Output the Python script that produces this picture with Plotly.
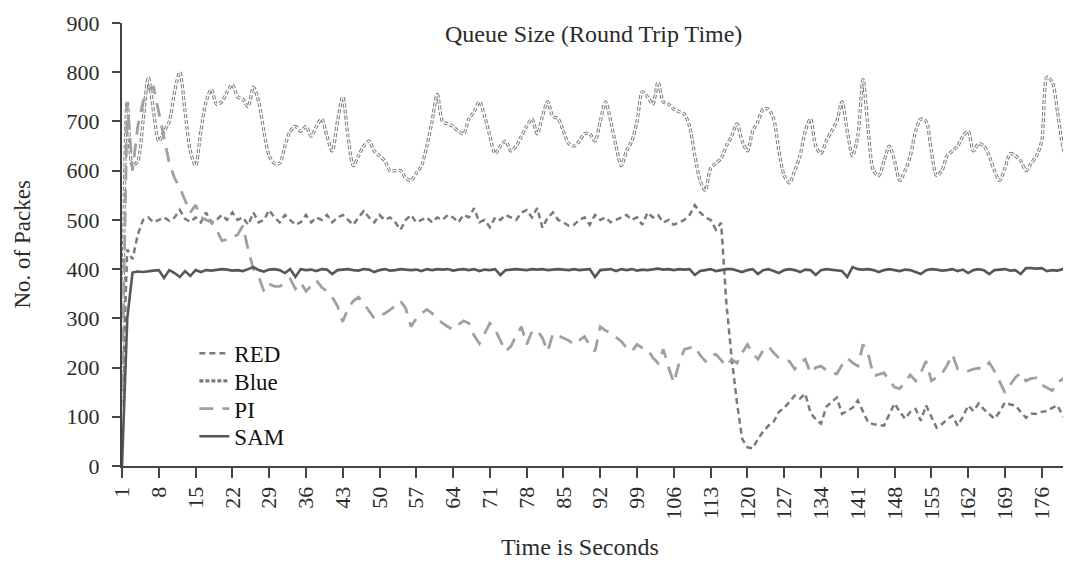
import plotly.graph_objects as go

seconds = list(range(1, 182))

red = [130, 440, 420, 470, 500, 505, 495, 500, 505, 498,
       505, 520, 502, 496, 505, 495, 515, 495, 500, 510,
       500, 515, 500, 505, 490, 515, 495, 500, 520, 505,
       495, 510, 500, 490, 495, 510, 495, 505, 500, 510,
       495, 505, 510, 500, 490, 505, 518, 505, 495, 510,
       500, 505, 495, 480, 500, 510, 495, 500, 505, 495,
       505, 500, 510, 505, 495, 510, 505, 524, 495, 500,
       485, 505, 500, 510, 505, 500, 515, 520, 505, 524,
       484, 505, 515, 500, 495, 488, 490, 500, 505, 490,
       510, 500, 505, 495, 500, 505, 510, 500, 505, 490,
       515, 505, 510, 495, 500, 490, 495, 500, 510, 530,
       515, 505, 500, 480, 494, 330, 220, 130, 55, 38,
       36, 55, 70, 82, 90, 110, 118, 130, 143, 137,
       147, 108, 95, 86, 120, 130, 139, 106, 112, 118,
       133, 110, 88, 85, 84, 82, 105, 127, 110, 96,
       110, 116, 92, 123, 100, 78, 85, 95, 102, 82,
       100, 123, 112, 127, 115, 105, 96, 110, 129, 125,
       123, 110, 98, 106, 106, 110, 112, 118, 123, 102,
       92]

blue = [120, 740, 610, 620, 700, 790, 720, 660, 680, 700,
        760, 800, 720, 640, 610, 680, 740, 765, 735, 740,
        760, 775, 750, 745, 730, 770, 740, 680, 630, 615,
        615, 650, 680, 690, 680, 690, 670, 690, 705, 670,
        640, 700, 750, 670, 610, 630, 650, 660, 640, 630,
        620, 600, 600, 600, 585, 580, 595, 610, 650, 700,
        755, 700, 695, 690, 680, 675, 705, 720, 740, 710,
        670, 635, 650, 660, 640, 650, 670, 690, 705, 675,
        710, 740, 710, 705, 680, 655, 650, 660, 675, 675,
        660, 700, 740, 700, 650, 610, 640, 660, 700, 760,
        750, 735, 780, 740, 735, 725, 720, 715, 690, 630,
        580, 560, 605, 615, 625, 650, 670, 695, 660, 640,
        680, 700, 725, 725, 705, 640, 590, 575, 600, 630,
        680, 705, 650, 635, 660, 680, 700, 740, 680, 630,
        670, 785, 680, 600, 590, 620, 650, 620, 580, 600,
        630, 680, 705, 700, 640, 590, 600, 630, 640, 650,
        670, 680, 640, 655, 650, 630, 600, 580, 605, 635,
        630, 620, 600, 615, 630, 660, 790, 780, 720, 650,
        615]

pi = [160, 740, 600, 690, 740, 765, 770, 720, 670, 615,
      585, 565, 540, 515, 530, 505, 500, 495, 480, 458,
      460, 465, 470, 488, 440, 400, 385, 355, 370, 365,
      365, 370, 380, 360, 373, 355, 365, 377, 363, 355,
      343, 325, 293, 320, 335, 343, 330, 315, 300, 305,
      310, 317, 325, 335, 320, 283, 300, 310, 318, 310,
      300, 290, 283, 277, 287, 295, 290, 265, 249, 269,
      290, 277, 255, 233, 243, 265, 283, 247, 273, 276,
      260, 233, 269, 265, 260, 255, 247, 255, 263, 245,
      233, 283, 275, 270, 262, 253, 240, 233, 247, 240,
      237, 220, 209, 237, 200, 169, 209, 237, 240, 243,
      225, 213, 225, 227, 215, 203, 217, 209, 230, 247,
      229, 217, 235, 243, 230, 219, 215, 213, 197, 210,
      217, 189, 200, 203, 195, 189, 187, 205, 219, 210,
      203, 247, 227, 183, 186, 189, 173, 160, 157, 170,
      185, 173, 190, 213, 173, 180, 187, 205, 227, 197,
      195, 193, 197, 199, 197, 210, 193, 170, 149, 165,
      180, 189, 173, 178, 179, 165, 159, 153, 170, 177,
      159]

sam = [0, 300, 393, 395, 394, 396, 397, 398, 382, 398,
       392, 384, 396, 386, 398, 394, 398, 397, 398, 400,
       399, 397, 398, 396, 400, 404, 398, 395, 399, 400,
       398, 392, 400, 384, 400, 398, 399, 396, 400, 399,
       390, 398, 399, 400, 398, 397, 400, 399, 394, 398,
       400, 397, 398, 400, 399, 398, 399, 396, 400, 398,
       400, 399, 400, 397, 399, 400, 398, 400, 396, 399,
       398, 400, 388, 398, 399, 400, 399, 398, 400, 399,
       400, 398, 399, 400, 399, 398, 400, 398, 399, 400,
       384, 398, 399, 400, 396, 400, 398, 400, 397, 399,
       398, 400, 401, 399, 400, 398, 400, 399, 400, 388,
       396, 398, 400, 396, 398, 400, 400, 397, 394, 398,
       400, 390, 398, 400, 396, 392, 398, 400, 398, 394,
       399, 398, 388, 398, 400, 399, 398, 396, 384, 404,
       400, 399, 400, 398, 394, 398, 400, 398, 396, 399,
       398, 394, 390, 398, 400, 399, 397, 398, 400, 396,
       399, 392, 398, 400, 398, 390, 398, 399, 400, 397,
       398, 390, 402, 402, 401, 402, 396, 398, 397, 400,
       398]

tick_labels = list(range(1, 182, 7))

for name, arr in (("red", red), ("blue", blue), ("pi", pi), ("sam", sam)):
    assert len(arr) == len(seconds), (name, len(arr))

FONT = "Liberation Serif, Times New Roman, serif"
TXT = "#2b2b2b"

fig = go.Figure()
fig.add_trace(go.Scatter(x=seconds, y=red, name="RED", mode="lines", legend="legend",
                         line=dict(color="#7a7a7a", width=2.5, dash="6px,4px")))
fig.add_trace(go.Scatter(x=seconds, y=blue, name="Blue", mode="lines", legend="legend2",
                         line=dict(color="#7a7a7a", width=3.2, dash="4px,2px", shape="spline",
                                   smoothing=0.8)))
fig.add_trace(go.Scatter(x=seconds, y=blue, name="Blue", mode="lines", showlegend=False,
                         hoverinfo="skip",
                         line=dict(color="#ffffff", width=1.2, dash="4px,2px", shape="spline",
                                   smoothing=0.8)))
fig.add_trace(go.Scatter(x=seconds, y=pi, name="PI", mode="lines", legend="legend3",
                         line=dict(color="#a0a0a0", width=2.8, dash="14px,9px")))
fig.add_trace(go.Scatter(x=seconds, y=sam, name="SAM", mode="lines", legend="legend4",
                         line=dict(color="#575757", width=2.6)))

leg_common = dict(x=0.0765, xanchor="left", yanchor="middle", bgcolor="rgba(0,0,0,0)",
                  font=dict(size=23, family=FONT, color="#111"))

fig.update_layout(
    width=1063, height=558,
    margin=dict(l=114, r=3, t=10, b=100),
    paper_bgcolor="white", plot_bgcolor="white",
    font=dict(family=FONT, size=22, color=TXT),
    showlegend=True,
    legend=dict(y=0.2545, **leg_common),
    legend2=dict(y=0.192, **leg_common),
    legend3=dict(y=0.1295, **leg_common),
    legend4=dict(y=0.067, **leg_common),
    annotations=[
        dict(text="Queue Size (Round Trip Time)", xref="paper", yref="paper",
             x=0.498, y=0.975, xanchor="center", yanchor="middle", showarrow=False,
             font=dict(size=24, family=FONT, color=TXT)),
        dict(text="No. of Packes", xref="paper", yref="paper",
             x=-0.1057, y=0.5, xanchor="center", yanchor="middle", textangle=-90,
             showarrow=False, font=dict(size=23, family=FONT, color=TXT)),
        dict(text="Time is Seconds", xref="paper", yref="paper",
             x=0.484, y=-0.183, xanchor="center", yanchor="middle", showarrow=False,
             font=dict(size=24, family=FONT, color=TXT)),
    ],
)

fig.update_xaxes(range=[1, 181], tickmode="array", tickvals=tick_labels,
                 ticktext=[str(t) for t in tick_labels], tickangle=-90,
                 showgrid=False, zeroline=False, showline=True, linecolor="#444",
                 linewidth=2, ticks="outside", ticklen=10, tickwidth=1.5, tickcolor="#444",
                 ticklabeloverflow="allow",
                 tickfont=dict(size=22, family=FONT, color=TXT))
fig.update_yaxes(range=[0, 900], dtick=100, showgrid=False, zeroline=False,
                 showline=True, linecolor="#444", linewidth=2, ticks="outside",
                 ticklen=8, tickwidth=1.5, tickcolor="#444",
                 ticklabelstandoff=8, ticklabeloverflow="allow",
                 tickfont=dict(size=22, family=FONT, color=TXT))

fig.write_html("out.html")
